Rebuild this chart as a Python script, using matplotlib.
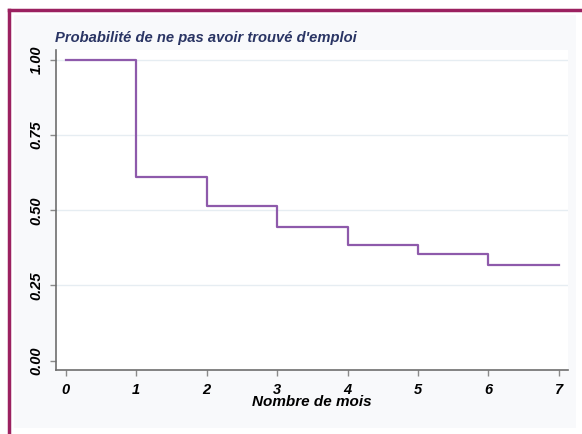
import numpy as np
import matplotlib.pyplot as plt
from matplotlib.patches import Rectangle

# survival step values
mois = [0, 1, 2, 3, 4, 5, 6, 7]
proba = [1.00, 0.610, 0.513, 0.444, 0.386, 0.355, 0.317, 0.317]
yticks = [0.00, 0.25, 0.50, 0.75, 1.00]
ylabels = ['0.00', '0.25', '0.50', '0.75', '1.00']

titre = "Probabilité de ne pas avoir trouvé d'emploi"
xlab = 'Nombre de mois'

plt.rcParams['font.family'] = ['Liberation Sans', 'DejaVu Sans']

fig = plt.figure(figsize=(5.82, 4.34), dpi=100)
W, H = 582, 434

# outer panel and maroon frame
fig.patches.append(Rectangle((14 / W, 6 / H), (576 - 14) / W, (419 - 6) / H,
                             transform=fig.transFigure, facecolor='#f8f9fb',
                             edgecolor='none', zorder=-5))
fig.lines.append(plt.Line2D([9 / W, 9 / W], [0, 1 - 10 / H], transform=fig.transFigure,
                            color='#9b2160', lw=2.5))
fig.lines.append(plt.Line2D([9 / W, 1], [1 - 10 / H, 1 - 10 / H], transform=fig.transFigure,
                            color='#9b2160', lw=2.5))

ax = fig.add_axes([56 / W, 1 - 370 / H, (568 - 56) / W, (370 - 50) / H])
ax.set_zorder(2)
ax.set_facecolor('white')
ax.step(mois, proba, where='post', color='#8e5aab', lw=1.6, zorder=3)

ax.set_xlim(-0.14, 7.13)
ax.set_ylim(-0.031, 1.033)
ax.set_yticks(yticks)
ax.set_yticklabels(ylabels, rotation=90, va='center')
ax.set_xticks(mois)

for y in yticks[1:]:
    ax.axhline(y, color='#e6edf2', lw=1, zorder=1)

for s in ['top', 'right']:
    ax.spines[s].set_visible(False)
for s in ['left', 'bottom']:
    ax.spines[s].set_color('#6e6e6e')
    ax.spines[s].set_linewidth(1.2)

ax.tick_params(axis='both', length=4, width=1, color='#8a8a8a', labelsize=10.5)
ax.tick_params(axis='x', pad=5)
ax.tick_params(axis='y', pad=5)
for lab in ax.get_xticklabels() + ax.get_yticklabels():
    lab.set_fontweight('bold')
    lab.set_fontstyle('italic')

ax.set_xlabel(xlab, fontsize=11, fontweight='bold', fontstyle='italic', labelpad=-1)
fig.text(55 / W, 1 - 38 / H, titre, fontsize=10.6, fontweight='bold',
         fontstyle='italic', color='#2a3564', va='center', ha='left')

fig.savefig('out.png', dpi=100)
